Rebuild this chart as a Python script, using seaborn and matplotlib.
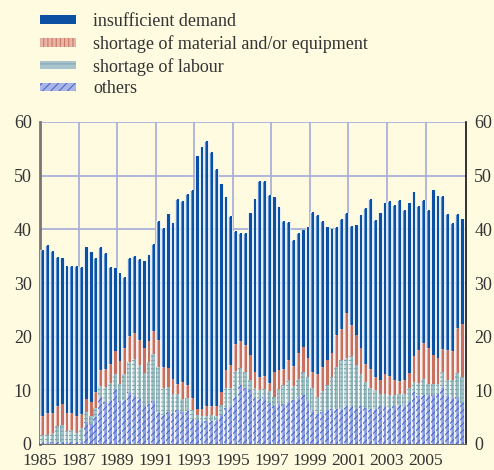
import numpy as np
import pandas as pd
import matplotlib
matplotlib.use("Agg")
import matplotlib.pyplot as plt
from matplotlib.patches import Patch
import seaborn as sns

# ---- data (quarterly, 1985Q1 - 2006Q4), percent of firms ----
demand = [
    31.0, 31.4, 30.3, 27.7, 27.3, 27.4, 27.4, 27.9,
    27.4, 28.4, 27.9, 25.1, 22.9, 21.6, 18.1, 15.5,
    16.4, 13.3, 14.5, 14.5, 15.1, 16.3, 16.2, 16.1,
    22.1, 25.8, 28.8, 28.9, 34.5, 33.7, 35.5, 38.7,
    47.1, 48.9, 49.5, 47.4, 44.2, 38.8, 32.3, 27.7,
    21.1, 20.2, 21.0, 26.5, 32.1, 36.6, 36.3, 35.1,
    32.6, 30.5, 27.7, 25.6, 23.5, 22.5, 21.7, 24.5,
    29.8, 29.6, 27.2, 24.7, 23.0, 20.2, 20.5, 18.6,
    18.5, 20.5, 24.9, 29.0, 31.7, 29.3, 31.2, 32.0,
    32.6, 32.6, 33.8, 31.7, 31.7, 30.6, 26.8, 26.6,
    25.8, 30.7, 30.2, 28.6, 25.4, 23.8, 21.2, 19.6]
material = [
    3.5, 4.0, 3.7, 3.7, 3.9, 3.3, 3.0, 3.2,
    2.5, 2.4, 2.7, 2.8, 2.9, 3.4, 3.6, 4.3,
    4.3, 4.7, 4.9, 4.7, 4.6, 4.6, 3.9, 4.4,
    5.0, 4.0, 3.4, 2.9, 1.8, 3.2, 2.5, 2.3,
    1.1, 1.2, 1.7, 1.7, 1.8, 2.4, 3.3, 4.3,
    5.0, 5.0, 4.9, 4.6, 3.0, 2.3, 2.5, 1.5,
    4.7, 3.5, 2.9, 3.8, 3.8, 4.7, 4.7, 3.5,
    3.1, 4.2, 4.6, 4.7, 4.5, 6.0, 5.7, 8.3,
    5.8, 5.6, 4.8, 3.4, 3.5, 2.4, 2.6, 3.7,
    3.6, 2.8, 2.3, 2.5, 2.9, 4.8, 6.3, 6.6,
    6.6, 5.4, 4.9, 4.2, 5.5, 5.5, 8.4, 9.9]
labour = [
    1.4, 1.4, 1.7, 3.0, 3.1, 2.1, 2.4, 1.8,
    2.5, 1.9, 1.5, 1.8, 2.2, 2.7, 3.1, 2.9,
    3.2, 4.9, 5.7, 6.8, 6.3, 6.1, 7.7, 8.6,
    8.4, 5.0, 4.7, 3.6, 3.1, 2.4, 2.3, 1.6,
    0.9, 1.0, 1.0, 1.1, 0.8, 1.9, 3.6, 3.3,
    4.8, 3.1, 3.1, 1.9, 2.0, 1.7, 1.5, 2.1,
    1.8, 2.7, 3.5, 3.8, 2.6, 3.4, 4.3, 4.4,
    4.1, 3.1, 3.8, 4.7, 6.0, 7.8, 9.1, 9.1,
    9.3, 8.1, 5.9, 4.8, 3.8, 3.5, 2.3, 2.2,
    2.3, 2.0, 2.1, 2.3, 2.5, 2.0, 2.4, 3.1,
    2.1, 2.1, 1.8, 2.8, 2.9, 3.1, 4.4, 4.9]
others = [
    0.3, 0.3, 0.3, 0.4, 0.4, 0.3, 0.3, 0.3,
    0.5, 4.1, 3.7, 5.0, 8.7, 7.9, 8.2, 10.1,
    8.0, 8.2, 9.6, 9.1, 8.4, 7.1, 7.5, 8.1,
    6.0, 5.4, 6.0, 5.7, 6.3, 6.0, 6.2, 4.7,
    4.5, 4.3, 4.3, 4.3, 4.5, 5.4, 6.8, 7.1,
    8.8, 11.0, 10.4, 10.1, 8.5, 8.4, 8.7, 7.7,
    7.0, 7.5, 7.5, 8.1, 8.2, 8.8, 9.1, 8.1,
    6.3, 5.7, 6.0, 6.3, 6.5, 6.5, 6.6, 7.0,
    7.1, 6.6, 7.1, 6.8, 6.6, 6.6, 7.0, 7.1,
    6.8, 7.1, 7.3, 7.1, 7.9, 9.6, 8.9, 9.1,
    9.1, 9.1, 9.4, 10.7, 9.1, 8.8, 8.8, 7.6]
first_year = 1985
tick_years = list(range(1985, 2008, 2))
tick_labels = [str(y) if y <= 2005 else "" for y in tick_years]
y_ticks = [0, 10, 20, 30, 40, 50, 60]
series_names = ["insufficient demand", "shortage of material and/or equipment",
                "shortage of labour", "others"]

# ---- styling ----
sns.set_style("white")
plt.rcParams["font.family"] = ["Liberation Serif", "DejaVu Serif"]
plt.rcParams["hatch.linewidth"] = 0.7

BG = "#FEFBE0"
TXT = "#333333"
GRID = "#A9B1DA"

fig = plt.figure(figsize=(4.94, 4.70), dpi=100, facecolor=BG)
ax = fig.add_axes([40 / 494, 26 / 470, 426 / 494, 322 / 470])
ax.set_facecolor(BG)

n = len(demand)
df = pd.DataFrame({
    "x": first_year + 0.25 * np.arange(n) + 0.125,
    "others": others, "labour": labour, "material": material, "demand": demand,
})
df["c_others"] = df["others"]
df["c_labour"] = df["c_others"] + df["labour"]
df["c_material"] = df["c_labour"] + df["material"]
df["c_total"] = df["c_material"] + df["demand"]

W = 0.80
HALF = 0.46
shift = 0.25 * (W / 2 - HALF / 2)

layers = [
    # column, light, dark, hatch, hatch colour
    ("c_total", "#5E92D2", "#0B50A2", None, None),
    ("c_material", "#E8B4A5", "#C8705F", None, None),
    ("c_labour", "#C3D8D9", "#9FC0C4", "++++", "#7FA8AE"),
    ("c_others", "#A9B5E6", "#8E9DE0", "/////", "#3F63C6"),
]

for z, (col, light, dark, hatch, hc) in enumerate(layers):
    sns.barplot(x=df["x"], y=df[col], native_scale=True, width=W, color=light,
                saturation=1, errorbar=None, edgecolor="white", linewidth=0.5,
                ax=ax, zorder=3 + z)
    sns.barplot(x=df["x"] + shift, y=df[col], native_scale=True, width=HALF,
                color=dark, saturation=1, errorbar=None, linewidth=0,
                ax=ax, zorder=3 + z)
    if hatch:
        sns.barplot(x=df["x"], y=df[col], native_scale=True, width=W, color=hc,
                    fill=False, hatch=hatch, saturation=1, errorbar=None,
                    linewidth=0, ax=ax, zorder=3 + z)

# axes
ax.set_xlim(first_year, 2007.1)
ax.set_ylim(0, 60)
ax.set_xlabel("")
ax.set_ylabel("")
ax.set_xticks(tick_years)
ax.set_xticklabels(tick_labels)
ax.set_yticks(y_ticks)
ax.tick_params(axis="x", direction="out", length=4, width=1.2, color="#555555",
               labelsize=12.5, labelcolor=TXT, pad=2.5)
ax.tick_params(axis="y", length=0, labelsize=13, labelcolor=TXT, pad=6,
               labelleft=True, labelright=True)

for y in y_ticks[1:]:
    ax.axhline(y, color=GRID, lw=1.3, zorder=1)
for x in tick_years[1:-1]:
    ax.axvline(x, color=GRID, lw=1.3, zorder=1)

ax.spines["top"].set_visible(False)
ax.spines["left"].set_color("#777777")
ax.spines["left"].set_linewidth(2)
ax.spines["right"].set_color("#111111")
ax.spines["right"].set_linewidth(1.2)
ax.spines["right"].set_visible(True)
ax.spines["bottom"].set_color("#555555")
ax.spines["bottom"].set_linewidth(1.2)

# legend
handles = [
    Patch(facecolor="#0B50A2", edgecolor="none"),
    Patch(facecolor="#E8B4A5", edgecolor="#C8705F", hatch="||||", linewidth=0),
    Patch(facecolor="#A9C4CC", edgecolor="#7FA3AE", hatch="---", linewidth=0),
    Patch(facecolor="#A9B5E6", edgecolor="#3F63C6", hatch="////", linewidth=0),
]
leg = fig.legend(handles, series_names, loc="upper left",
                 bbox_to_anchor=(40 / 494, 1 - 13 / 470), frameon=False,
                 fontsize=13, handlelength=2.0, handleheight=0.35,
                 handletextpad=0.95, labelspacing=0.27, borderaxespad=0,
                 borderpad=0)
for t in leg.get_texts():
    t.set_color(TXT)

fig.savefig("out.png", dpi=100, facecolor=BG)
